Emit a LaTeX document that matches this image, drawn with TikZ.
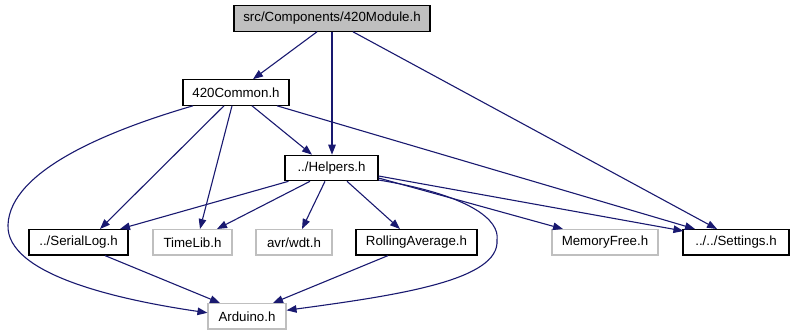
\documentclass[tikz,border=0pt]{standalone}
\usepackage{fontspec}
\setmainfont{Liberation Sans}
\usetikzlibrary{arrows.meta}
\definecolor{edgeblue}{RGB}{25,25,112}
\definecolor{boxgray}{RGB}{191,191,191}
\begin{document}
\begin{tikzpicture}[x=1pt,y=-1pt,
  hdr/.style={draw=black,line width=1.1pt,fill=white,inner sep=0pt,
    minimum height=25.5pt,font=\fontsize{13.3}{16}\selectfont},
  extern/.style={hdr,draw=boxgray},
  current/.style={hdr,fill=boxgray},
  dep/.style={draw=edgeblue,line width=1.1pt,
    -{Triangle[length=10pt,width=7.5pt]},color=edgeblue}]
\useasboundingbox (0,0) rectangle (795,336);

% header files
\node[current,minimum width=196pt] (mod)      at (332,18.5)  {src/Components/420Module.h};
\node[hdr,minimum width=106pt]     (common)   at (236,92.5)  {420Common.h};
\node[hdr,minimum width=93pt]      (helpers)  at (331.5,168) {../Helpers.h};
\node[hdr,minimum width=99pt]      (serial)   at (78.5,242.3) {../SerialLog.h};
\node[extern,minimum width=79pt]   (timelib)  at (192.5,242.3) {TimeLib.h};
\node[extern,minimum width=76pt]   (wdt)      at (294,242.3) {avr/wdt.h};
\node[hdr,minimum width=121pt]     (rolling)  at (416.5,242.3) {RollingAverage.h};
\node[extern,minimum width=106pt]  (memfree)  at (605,242.3) {MemoryFree.h};
\node[hdr,minimum width=106pt]     (settings) at (736,242.3) {../../Settings.h};
\node[extern,minimum width=78pt]   (arduino)  at (247,316.3) {Arduino.h};

% includes of 420Module.h
\draw[dep] ([xshift=-15pt]mod.south) -- ([xshift=17pt]common.north);
\draw[dep] (mod.south) -- (mod.south |- helpers.north);
\draw[dep] ([xshift=21pt]mod.south) -- ([xshift=-19pt]settings.north);

% includes of 420Common.h
\draw[dep] ([xshift=-12pt]common.south) -- ([xshift=21.5pt]serial.north);
\draw[dep] ([xshift=-4pt]common.south) -- ([xshift=7.5pt]timelib.north);
\draw[dep] ([xshift=16pt]common.south) -- ([xshift=-19.5pt]helpers.north);
\draw[dep] ([xshift=41pt]common.south) -- ([xshift=-41pt]settings.north);
\draw[dep] ([xshift=-43pt]common.south)
  .. controls (110,130) and (10,170) .. (8,225)
  .. controls (6,275) and (120,300) .. ([yshift=3.5pt]arduino.west);

% includes of Helpers.h
\draw[dep] ([xshift=-43pt]helpers.south) -- ([xshift=41.5pt]serial.north);
\draw[dep] ([xshift=-21.5pt]helpers.south) -- ([xshift=24.5pt]timelib.north);
\draw[dep] ([xshift=-6.5pt]helpers.south) -- ([xshift=8pt]wdt.north);
\draw[dep] ([xshift=15.5pt]helpers.south) -- ([xshift=-16.5pt]rolling.north);
\draw[dep] ([yshift=-10pt]helpers.east) -- ([xshift=-42pt]memfree.north);
\draw[dep] ([yshift=-8pt]helpers.east) -- ([xshift=1pt,yshift=-2pt]settings.north west);
\draw[dep] ([yshift=-12pt]helpers.east)
  .. controls (470,195) and (500,220) .. (497,240)
  .. controls (500,280) and (400,295) .. ([yshift=6pt]arduino.east);

% remaining Arduino.h includes
\draw[dep] ([xshift=26.5pt]serial.south) -- ([xshift=-27pt]arduino.north);
\draw[dep] ([xshift=-28.5pt]rolling.south) -- ([xshift=26pt]arduino.north);
\end{tikzpicture}
\end{document}
